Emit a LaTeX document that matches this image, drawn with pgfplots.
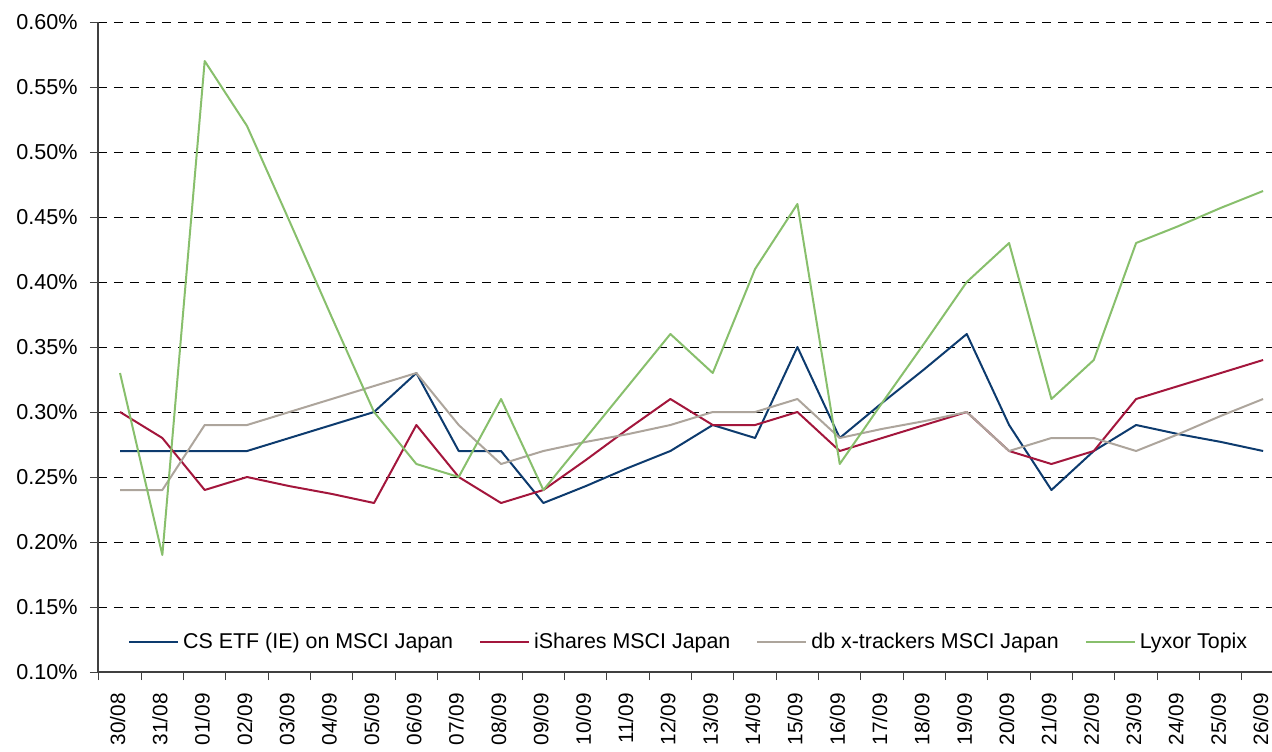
\documentclass[border=0pt]{standalone}
\usepackage{fontspec}
\setmainfont{Liberation Sans}
\usepackage{pgfplots}
\pgfplotsset{compat=1.18}
\definecolor{csblue}{HTML}{0D3B6E}
\definecolor{ishred}{HTML}{A3163C}
\definecolor{dbgray}{HTML}{ADA59C}
\definecolor{lyxgreen}{HTML}{88BF6C}
\begin{document}
\begin{tikzpicture}
\begin{axis}[
  at={(0,0)}, anchor=south west,
  scale only axis, width=587pt, height=325pt,
  xmin=-0.52, xmax=27.21, ymin=0.10, ymax=0.60,
  axis x line*=bottom, axis y line*=left,
  axis line style={draw=black!75, line width=0.7pt},
  xtick={0,...,27},
  xticklabels={30/08,31/08,01/09,02/09,03/09,04/09,05/09,06/09,07/09,08/09,09/09,10/09,11/09,12/09,13/09,14/09,15/09,16/09,17/09,18/09,19/09,20/09,21/09,22/09,23/09,24/09,25/09,26/09},
  minor xtick={-0.5,0.5,...,26.5},
  major x tick style={draw=none},
  tick align=outside,
  major tick length=4pt, minor tick length=4pt,
  tick style={draw=black!75, line width=0.5pt},
  ytick={0.10,0.15,0.20,0.25,0.30,0.35,0.40,0.45,0.50,0.55,0.60},
  yticklabels={0.10\%,0.15\%,0.20\%,0.25\%,0.30\%,0.35\%,0.40\%,0.45\%,0.50\%,0.55\%,0.60\%},
  ymajorgrids,
  major grid style={black, line width=0.5pt, dash pattern=on 4.5pt off 3.5pt},
  xticklabel style={xshift=-1.2pt, rotate=90, anchor=east, inner sep=0pt, font=\fontsize{10.4}{12}\selectfont},
  yticklabel style={anchor=east, inner sep=0pt, font=\fontsize{10.8}{12}\selectfont},
  xticklabel shift=6.5pt,
  yticklabel shift=6pt,
  legend columns=4,
  legend style={at={(0.504,0.046)}, anchor=center, draw=none, fill=none,
    font=\fontsize{10.7}{12}\selectfont,
    /tikz/every even column/.append style={column sep=11pt}},
  legend image code/.code={\draw[#1] (0pt,0pt) -- (24.5pt,0pt);},
  every axis plot/.append style={line width=1pt, line join=round},
]
\addplot[csblue] coordinates {
(0,0.27)(1,0.27)(2,0.27)(3,0.27)(4,0.28)(5,0.29)(6,0.30)(7,0.33)(8,0.27)(9,0.27)
(10,0.23)(11,0.243)(12,0.257)(13,0.27)(14,0.29)(15,0.28)(16,0.35)(17,0.28)(18,0.307)(19,0.333)
(20,0.36)(21,0.29)(22,0.24)(23,0.27)(24,0.29)(25,0.283)(26,0.277)(27,0.27)};
\addlegendentry{CS ETF (IE) on MSCI Japan}
\addplot[ishred] coordinates {
(0,0.30)(1,0.28)(2,0.24)(3,0.25)(4,0.243)(5,0.237)(6,0.23)(7,0.29)(8,0.25)(9,0.23)
(10,0.24)(11,0.263)(12,0.287)(13,0.31)(14,0.29)(15,0.29)(16,0.30)(17,0.27)(18,0.28)(19,0.29)
(20,0.30)(21,0.27)(22,0.26)(23,0.27)(24,0.31)(25,0.32)(26,0.33)(27,0.34)};
\addlegendentry{iShares MSCI Japan}
\addplot[dbgray] coordinates {
(0,0.24)(1,0.24)(2,0.29)(3,0.29)(4,0.30)(5,0.31)(6,0.32)(7,0.33)(8,0.29)(9,0.26)
(10,0.27)(11,0.277)(12,0.283)(13,0.29)(14,0.30)(15,0.30)(16,0.31)(17,0.28)(18,0.287)(19,0.293)
(20,0.30)(21,0.27)(22,0.28)(23,0.28)(24,0.27)(25,0.283)(26,0.297)(27,0.31)};
\addlegendentry{db x-trackers MSCI Japan}
\addplot[lyxgreen] coordinates {
(0,0.33)(1,0.19)(2,0.57)(3,0.52)(4,0.447)(5,0.373)(6,0.30)(7,0.26)(8,0.25)(9,0.31)
(10,0.24)(11,0.28)(12,0.32)(13,0.36)(14,0.33)(15,0.41)(16,0.46)(17,0.26)(18,0.307)(19,0.353)
(20,0.40)(21,0.43)(22,0.31)(23,0.34)(24,0.43)(25,0.443)(26,0.457)(27,0.47)};
\addlegendentry{Lyxor Topix}
\end{axis}
\pgfresetboundingbox
\path[use as bounding box] (-49pt,-39.5pt) rectangle (587pt,336pt);
\end{tikzpicture}
\end{document}
